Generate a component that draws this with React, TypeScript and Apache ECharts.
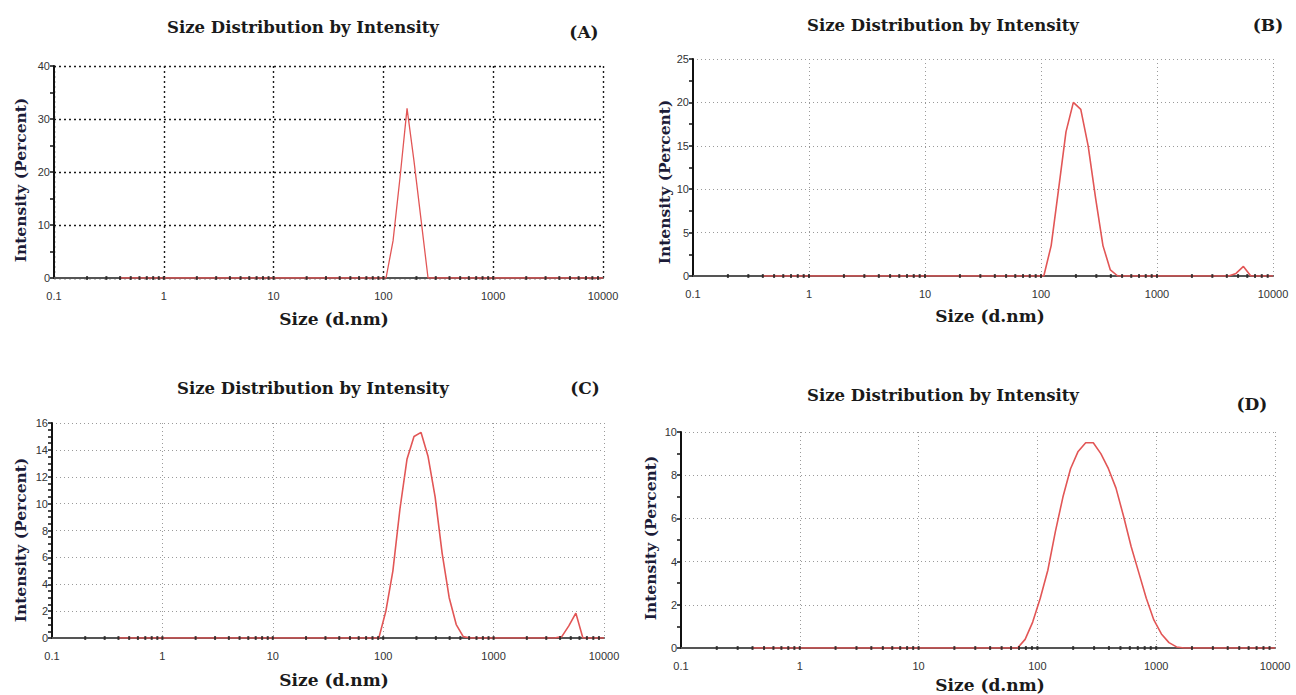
import React, { useEffect, useRef } from "react";
import * as echarts from "echarts";

// Malvern size classes (d.nm)
const sizeBins = [
  0.4, 0.4632, 0.5365, 0.6213, 0.7195, 0.8332, 0.9649, 1.117, 1.294, 1.499,
  1.736, 2.01, 2.328, 2.696, 3.122, 3.615, 4.187, 4.849, 5.615, 6.503,
  7.531, 8.721, 10.1, 11.7, 13.54, 15.69, 18.17, 21.04, 24.36, 28.21,
  32.67, 37.84, 43.82, 50.75, 58.77, 68.06, 78.82, 91.28, 105.7, 122.4,
  141.8, 164.2, 190.1, 220.2, 255.0, 295.3, 342.0, 396.1, 458.7, 531.2,
  615.1, 712.4, 825.0, 955.4, 1106, 1281, 1484, 1718, 1990, 2305,
  2669, 3091, 3580, 4145, 4801, 5560, 6439, 7456, 8635, 10000,
];

const intensityA = [
  0, 0, 0, 0, 0, 0, 0, 0, 0, 0,
  0, 0, 0, 0, 0, 0, 0, 0, 0, 0,
  0, 0, 0, 0, 0, 0, 0, 0, 0, 0,
  0, 0, 0, 0, 0, 0, 0, 0, 0, 7,
  19, 32, 22, 11, 0, 0, 0, 0, 0, 0,
  0, 0, 0, 0, 0, 0, 0, 0, 0, 0,
  0, 0, 0, 0, 0, 0, 0, 0, 0, 0,
];

const intensityB = [
  0, 0, 0, 0, 0, 0, 0, 0, 0, 0,
  0, 0, 0, 0, 0, 0, 0, 0, 0, 0,
  0, 0, 0, 0, 0, 0, 0, 0, 0, 0,
  0, 0, 0, 0, 0, 0, 0, 0, 0, 3.5,
  10, 16.6, 20, 19.2, 15, 9, 3.5, 0.7, 0, 0,
  0, 0, 0, 0, 0, 0, 0, 0, 0, 0,
  0, 0, 0, 0, 0.3, 1.1, 0, 0, 0, 0,
];

const intensityC = [
  0, 0, 0, 0, 0, 0, 0, 0, 0, 0,
  0, 0, 0, 0, 0, 0, 0, 0, 0, 0,
  0, 0, 0, 0, 0, 0, 0, 0, 0, 0,
  0, 0, 0, 0, 0, 0, 0, 0, 2.0, 5.0,
  9.6, 13.3, 15.0, 15.3, 13.5, 10.5, 6.3, 3.0, 1.0, 0.1,
  0, 0, 0, 0, 0, 0, 0, 0, 0, 0,
  0, 0, 0, 0.1, 0.9, 1.85, 0, 0, 0, 0,
];

const intensityD = [
  0, 0, 0, 0, 0, 0, 0, 0, 0, 0,
  0, 0, 0, 0, 0, 0, 0, 0, 0, 0,
  0, 0, 0, 0, 0, 0, 0, 0, 0, 0,
  0, 0, 0, 0, 0, 0, 0.4, 1.2, 2.3, 3.6,
  5.4, 7.0, 8.3, 9.1, 9.5, 9.5, 9.0, 8.3, 7.4, 6.1,
  4.7, 3.5, 2.3, 1.3, 0.65, 0.25, 0.05, 0, 0, 0,
  0, 0, 0, 0, 0, 0, 0, 0, 0, 0,
];

const seriesValues = [intensityA, intensityB, intensityC, intensityD];
const panelLabels = ["(A)", "(B)", "(C)", "(D)"];
const chartTitle = "Size Distribution by Intensity";
const xAxisName = "Size (d.nm)";
const yAxisName = "Intensity (Percent)";
const yMaxes = [40, 25, 16, 10];
const yIntervals = [10, 5, 2, 2];
const yMinorSplits = [2, 2, 4, 2];
const xMin = 0.1;
const xMax = 10000;
const tickDecades = [0.1, 1, 10, 100, 1000];
const tickMultipliers = [1, 2, 3, 4, 5, 6, 7, 8, 9];

// layout (pixels)
const grids = [
  { left: 54, top: 66, width: 549, height: 212 },
  { left: 693, top: 59, width: 580, height: 217 },
  { left: 52, top: 423, width: 552, height: 215 },
  { left: 681, top: 432, width: 594, height: 216 },
];
const titlePos = [
  { x: 303, y: 27 },
  { x: 943, y: 25 },
  { x: 313, y: 388 },
  { x: 943, y: 395 },
];
const labelPos = [
  { x: 584, y: 32 },
  { x: 1268, y: 25 },
  { x: 585, y: 388 },
  { x: 1252, y: 404 },
];
const xNamePos = [
  { x: 334, y: 319 },
  { x: 990, y: 316 },
  { x: 334, y: 680 },
  { x: 990, y: 685 },
];
const yNamePos = [
  { x: 20, y: 180 },
  { x: 664, y: 182 },
  { x: 20, y: 540 },
  { x: 650, y: 538 },
];

const RED = "#e25656";
const SERIF = "'DejaVu Serif', 'Liberation Serif', serif";
const SANS = "'Liberation Sans', Arial, sans-serif";

export default function App() {
  const ref = useRef<HTMLDivElement>(null);

  useEffect(() => {
    if (!ref.current) return;
    const chart = echarts.init(ref.current, undefined, { renderer: "svg" });

    const minorTickPoints: number[][] = [];
    tickDecades.forEach((d) =>
      tickMultipliers.forEach((m) => {
        const v = d * m;
        if (v > xMin) minorTickPoints.push([v, 0]);
      })
    );

    const gridOpts: any[] = [];
    const xAxes: any[] = [];
    const yAxes: any[] = [];
    const series: any[] = [];
    const graphics: any[] = [];

    grids.forEach((g, i) => {
      const dark = i === 0;
      const splitStyle = dark
        ? { color: "#1a1a1a", width: 1.4, type: [2, 3] }
        : { color: "#9a9a9a", width: 1, type: [1, 3] };
      gridOpts.push({ ...g, outerBoundsMode: "none", containLabel: false });
      xAxes.push({
        type: "log",
        logBase: 10,
        gridIndex: i,
        min: xMin,
        max: xMax,
        axisLine: { show: true, onZero: true, lineStyle: { color: "#555", width: 2 } },
        axisTick: { show: false },
        axisLabel: {
          color: "#333",
          fontFamily: SANS,
          fontSize: 11,
          margin: 12,
          formatter: (v: number) => String(v),
        },
        splitLine: { show: true, lineStyle: splitStyle },
      });
      yAxes.push({
        type: "value",
        gridIndex: i,
        min: 0,
        max: yMaxes[i],
        interval: yIntervals[i],
        axisLine: { show: true, lineStyle: { color: "#111", width: 2 } },
        axisTick: { show: true, inside: false, length: 4, lineStyle: { color: "#111", width: 1.5 } },
        minorTick: { show: true, splitNumber: yMinorSplits[i], length: 4, lineStyle: { color: "#111", width: 1.5 } },
        axisLabel: { color: "#333", fontFamily: SANS, fontSize: 11, margin: 4 },
        splitLine: { show: true, lineStyle: splitStyle },
      });
      series.push({
        type: "line",
        xAxisIndex: i,
        yAxisIndex: i,
        showSymbol: false,
        symbol: "none",
        silent: true,
        lineStyle: { color: RED, width: dark ? 1.3 : 1.6 },
        data: sizeBins.map((s, k) => [s, seriesValues[i][k]]),
        z: 5,
      });
      series.push({
        type: "scatter",
        xAxisIndex: i,
        yAxisIndex: i,
        symbol: "rect",
        symbolSize: [2, 4],
        silent: true,
        itemStyle: { color: "#222" },
        data: minorTickPoints,
        z: 6,
      });

      graphics.push({
        type: "text",
        x: titlePos[i].x,
        y: titlePos[i].y,
        style: {
          text: chartTitle,
          font: `bold 16.5px ${SERIF}`,
          fill: "#1a1a1a",
          textAlign: "center",
          textVerticalAlign: "middle",
        },
      });
      graphics.push({
        type: "text",
        x: labelPos[i].x,
        y: labelPos[i].y,
        style: {
          text: panelLabels[i],
          font: `bold 17px ${SERIF}`,
          fill: "#1a1a1a",
          textAlign: "center",
          textVerticalAlign: "middle",
        },
      });
      graphics.push({
        type: "text",
        x: xNamePos[i].x,
        y: xNamePos[i].y,
        style: {
          text: xAxisName,
          font: `bold 17px ${SERIF}`,
          fill: "#1a1a1a",
          textAlign: "center",
          textVerticalAlign: "middle",
        },
      });
      graphics.push({
        type: "text",
        x: yNamePos[i].x,
        y: yNamePos[i].y,
        rotation: Math.PI / 2,
        style: {
          text: yAxisName,
          font: `bold 15.5px ${SERIF}`,
          fill: "#1c1c38",
          textAlign: "center",
          textVerticalAlign: "middle",
        },
      });
    });

    chart.setOption({
      animation: false,
      backgroundColor: "#ffffff",
      grid: gridOpts,
      xAxis: xAxes,
      yAxis: yAxes,
      series,
      graphic: graphics,
    });

    return () => chart.dispose();
  }, []);

  return (
    <div
      ref={ref}
      style={{ position: "absolute", left: 0, top: 0, width: 1296, height: 695, background: "#fff" }}
    />
  );
}
